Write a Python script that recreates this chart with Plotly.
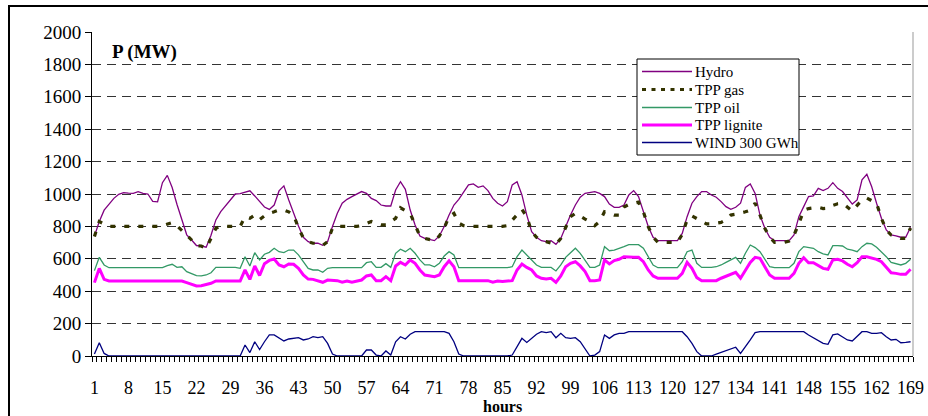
import plotly.graph_objects as go

hours = list(range(1, 170))
tick_hours = [1, 8, 15, 22, 29, 36, 43, 50, 57, 64, 71, 78, 85, 92, 99, 106, 113, 120, 127, 134, 141, 148, 155, 162, 169]

hydro = [740, 830, 900, 935, 973, 998, 1008, 1005, 1004, 1015,
         1004, 1000, 955, 952, 1070, 1115, 1040, 935, 840, 748,
         716, 682, 679, 672, 745, 840, 891, 926, 963, 1000,
         1002, 1012, 1020, 988, 955, 920, 905, 932, 1019, 1050,
         963, 881, 803, 733, 706, 696, 696, 683, 706, 799,
         881, 943, 967, 984, 1000, 1015, 1004, 973, 959, 932,
         926, 926, 1025, 1076, 1029, 901, 809, 741, 726, 720,
         712, 741, 799, 870, 932, 967, 1015, 1056, 1062, 1041,
         1050, 1021, 973, 943, 926, 953, 1056, 1076, 994, 870,
         768, 733, 712, 706, 712, 689, 726, 799, 870, 932,
         980, 1004, 1010, 1015, 1004, 984, 938, 918, 918, 932,
         994, 1021, 984, 891, 799, 733, 712, 712, 712, 712,
         712, 757, 860, 943, 984, 1015, 1015, 994, 980, 953,
         922, 905, 918, 943, 1041, 1062, 1004, 870, 788, 733,
         712, 712, 712, 712, 747, 860, 922, 984, 988, 1035,
         1021, 1035, 1070, 1035, 1015, 977, 938, 963, 1087, 1122,
         1045, 943, 850, 778, 747, 741, 733, 733, 795]

tpp_gas = [737, 830, 815, 800, 800, 800, 800, 800, 800, 800,
           800, 800, 800, 800, 805, 815, 823, 803, 778, 747,
           716, 681, 679, 665, 726, 788, 800, 800, 800, 800,
           800, 860, 850, 870, 842, 865, 881, 890, 901, 901,
           890, 870, 790, 730, 706, 696, 696, 683, 706, 790,
           800, 800, 800, 800, 800, 805, 820, 830, 820, 810,
           810, 830, 850, 915, 900, 880, 809, 741, 726, 720,
           712, 741, 790, 860, 880, 820, 805, 800, 800, 800,
           800, 800, 800, 800, 800, 805, 840, 870, 905, 860,
           768, 733, 712, 706, 700, 689, 726, 790, 860, 880,
           860, 845, 830, 805, 830, 890, 880, 870, 870, 920,
           935, 945, 950, 890, 799, 733, 702, 702, 702, 702,
           702, 750, 840, 865, 850, 830, 815, 815, 820, 825,
           840, 870, 875, 880, 890, 900, 943, 870, 788, 733,
           702, 702, 702, 710, 747, 815, 900, 910, 915, 918,
           910, 912, 930, 940, 943, 920, 895, 930, 963, 975,
           960, 943, 850, 778, 747, 735, 726, 726, 790]

tpp_oil = [527, 609, 562, 545, 545, 545, 545, 545, 545, 545,
           545, 545, 545, 545, 545, 558, 566, 547, 551, 521,
           510, 496, 494, 500, 514, 547, 547, 547, 547, 547,
           541, 613, 556, 638, 593, 628, 640, 665, 644, 638,
           654, 654, 624, 582, 541, 531, 531, 517, 541, 545,
           545, 545, 545, 545, 545, 545, 576, 582, 547, 547,
           570, 547, 634, 659, 644, 665, 634, 593, 562, 562,
           551, 572, 617, 644, 624, 545, 545, 545, 545, 545,
           545, 545, 545, 545, 545, 545, 551, 613, 654, 624,
           593, 562, 547, 545, 547, 525, 562, 609, 638, 665,
           634, 593, 547, 547, 562, 675, 650, 654, 663, 675,
           687, 687, 687, 665, 613, 562, 545, 545, 545, 545,
           545, 582, 644, 654, 572, 547, 545, 547, 551, 562,
           578, 593, 609, 572, 634, 685, 669, 644, 593, 551,
           545, 545, 545, 545, 572, 644, 675, 669, 665, 644,
           630, 624, 681, 681, 679, 659, 654, 644, 675, 696,
           692, 671, 644, 613, 578, 568, 562, 572, 597]

tpp_lignite = [453, 541, 473, 463, 463, 463, 463, 463, 463, 463,
               463, 463, 463, 463, 463, 463, 463, 463, 463, 453,
               442, 432, 434, 442, 449, 463, 463, 463, 463, 463,
               463, 531, 473, 556, 497, 570, 590, 599, 562, 551,
               568, 566, 541, 500, 475, 473, 465, 455, 469, 465,
               465, 455, 463, 455, 463, 469, 494, 500, 465, 465,
               490, 465, 556, 578, 562, 593, 572, 531, 500, 496,
               490, 500, 551, 587, 551, 465, 465, 465, 465, 465,
               465, 465, 455, 463, 460, 463, 465, 531, 568, 547,
               531, 494, 480, 475, 480, 455, 494, 551, 572, 582,
               556, 521, 465, 465, 469, 593, 568, 589, 597, 613,
               609, 609, 609, 582, 531, 494, 480, 480, 480, 480,
               480, 510, 578, 541, 484, 465, 465, 465, 465, 480,
               494, 504, 517, 480, 531, 578, 609, 603, 551, 500,
               480, 480, 480, 480, 510, 572, 607, 576, 576, 556,
               541, 535, 593, 597, 587, 566, 551, 576, 613, 613,
               603, 597, 582, 551, 514, 510, 504, 504, 535]

wind = [12, 82, 16, 0, 0, 0, 0, 0, 0, 0,
        0, 0, 0, 0, 0, 0, 0, 0, 0, 0,
        0, 0, 0, 0, 0, 0, 0, 0, 0, 0,
        0, 68, 21, 88, 40, 88, 130, 130, 109, 93,
        105, 107, 113, 99, 105, 119, 113, 119, 78, 12,
        0, 0, 0, 0, 0, 0, 37, 37, 6, 0,
        31, 6, 88, 119, 105, 134, 150, 150, 150, 150,
        150, 150, 150, 140, 88, 12, 0, 0, 0, 0,
        0, 0, 0, 0, 0, 0, 6, 58, 109, 84,
        109, 134, 150, 144, 150, 113, 140, 113, 109, 113,
        88, 47, 0, 6, 27, 130, 109, 130, 140, 140,
        150, 150, 150, 150, 150, 150, 150, 150, 150, 150,
        150, 150, 119, 78, 27, 0, 0, 0, 12, 23,
        33, 43, 54, 16, 54, 99, 144, 150, 150, 150,
        150, 150, 150, 150, 150, 150, 150, 130, 113, 99,
        78, 72, 130, 136, 119, 99, 93, 119, 150, 150,
        140, 140, 144, 119, 99, 103, 82, 84, 88]

y_ticks = list(range(0, 2001, 200))

series_names = ["Hydro", "TPP gas", "TPP oil", "TPP lignite", "WIND 300 GWh"]
series_values = [hydro, tpp_gas, tpp_oil, tpp_lignite, wind]
series_styles = [
    dict(color="#800080", width=1.3),
    dict(color="#333300", width=3.2, dash="5px,9px"),
    dict(color="#339966", width=1.3),
    dict(color="#FF00FF", width=3),
    dict(color="#000080", width=1.3),
]

FONT = "Liberation Serif, Times New Roman, serif"
W, H = 928, 416
ML, MR, MT, MB = 92, 15, 32, 60
PW, PH = W - ML - MR, H - MT - MB


def px_x(px):
    return (px - ML) / PW


def px_y(py):
    return (H - MB - py) / PH


fig = go.Figure()
for name, vals, style in zip(series_names, series_values, series_styles):
    fig.add_trace(go.Scatter(x=hours, y=vals, name=name, mode="lines", line=style,
                             showlegend=False))

shapes = [
    dict(type="line", xref="paper", yref="paper", x0=1, x1=1, y0=0, y1=1,
         line=dict(color="#999999", width=1)),
    dict(type="rect", xref="paper", yref="paper",
         x0=px_x(9), x1=px_x(945), y0=px_y(440), y1=px_y(6),
         line=dict(color="black", width=2), fillcolor="rgba(0,0,0,0)", layer="above"),
    # legend box
    dict(type="rect", xref="paper", yref="paper",
         x0=px_x(637), x1=px_x(799), y0=px_y(155), y1=px_y(59),
         line=dict(color="black", width=1), fillcolor="white", layer="above"),
]
annotations = [
    dict(text="<b>P (MW)</b>", xref="paper", yref="paper", x=px_x(144), y=px_y(52),
         xanchor="center", yanchor="middle", showarrow=False,
         font=dict(family=FONT, size=19, color="black")),
    dict(text="<b>hours</b>", xref="paper", yref="paper", x=0.5, y=px_y(406),
         xanchor="center", yanchor="middle", showarrow=False,
         font=dict(family=FONT, size=16, color="black")),
]
legend_rows = [71.5, 89.5, 107.5, 125, 142.5]
for name, style, ry in zip(series_names, series_styles, legend_rows):
    st = dict(style)
    if "dash" in st:
        st["dash"] = "4px,5.5px"
        st["width"] = 3
    shapes.append(dict(type="line", xref="paper", yref="paper",
                       x0=px_x(642), x1=px_x(692), y0=px_y(ry), y1=px_y(ry),
                       line=st, layer="above"))
    annotations.append(dict(text=name, xref="paper", yref="paper", x=px_x(693), y=px_y(ry),
                            xanchor="left", yanchor="middle", showarrow=False,
                            font=dict(family=FONT, size=15, color="black")))

fig.update_layout(
    width=W, height=H,
    margin=dict(l=ML, r=MR, t=MT, b=MB, autoexpand=False),
    paper_bgcolor="white", plot_bgcolor="white",
    font=dict(family=FONT, color="black", size=19),
    showlegend=False,
    xaxis=dict(range=[0.5, 169.5], tickmode="array", tickvals=tick_hours,
               ticktext=[str(h) for h in tick_hours], automargin=False,
               ticks="", ticklabelstandoff=15, showgrid=False, zeroline=False,
               showline=True, linecolor="black", linewidth=1,
               tickfont=dict(family=FONT, size=18, color="black"),
               minor=dict(tickmode="array", tickvals=[h - 0.5 for h in hours] + [169.5],
                          ticks="outside", ticklen=5, tickcolor="black", tickwidth=1, showgrid=False)),
    yaxis=dict(range=[0, 2000], tickmode="array", tickvals=y_ticks, automargin=False,
               ticks="outside", ticklen=6, tickcolor="black",
               showgrid=True, gridcolor="#333333", gridwidth=1, griddash="9px,6px",
               zeroline=False, showline=True, linecolor="black", linewidth=1,
               tickfont=dict(family=FONT, size=19, color="black")),
    shapes=shapes,
    annotations=annotations,
)

fig.write_html("out.html", config={"displayModeBar": False},
               post_script="document.body.style.margin='0';document.body.style.overflow='hidden';")
